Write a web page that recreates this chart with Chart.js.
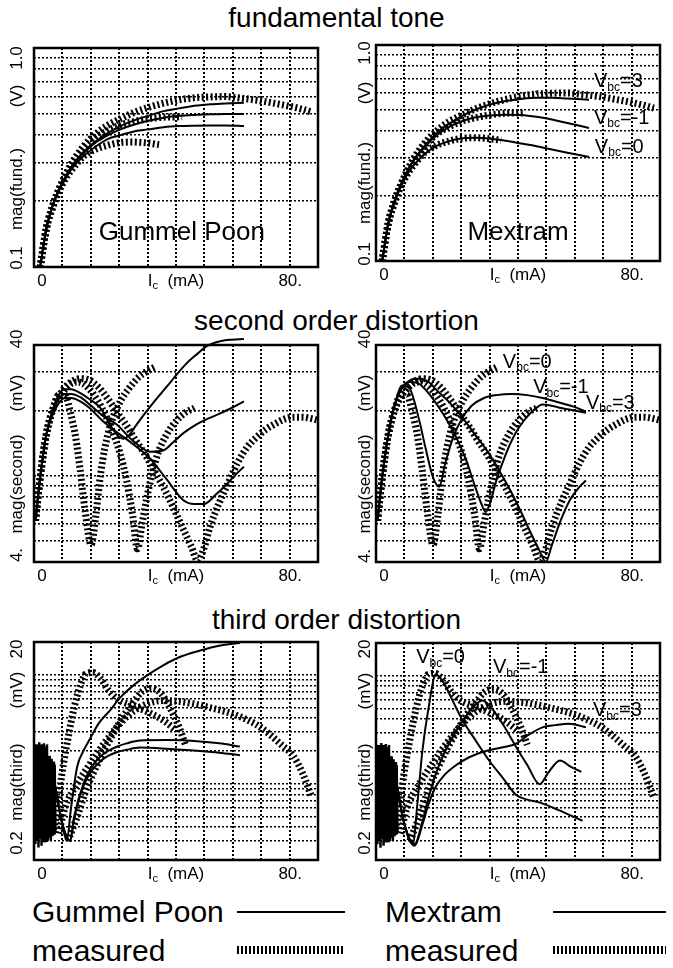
<!DOCTYPE html>
<html>
<head>
<meta charset="utf-8">
<title>distortion vs Ic</title>
<script src="https://cdn.jsdelivr.net/npm/chart.js@4.4.1/dist/chart.umd.min.js"></script>
<style>
    body { margin: 0; background: #fff; }
    #page { position: relative; width: 673px; height: 968px; overflow: hidden; font-family: "Liberation Sans", Arial, Helvetica, sans-serif; color: #000; }
    canvas { position: absolute; }
    .titulo { position: absolute; left: 0; width: 673px; text-align: center; font-size: 28px; line-height: 30px; }
    .leyenda { position: absolute; font-size: 30px; line-height: 34px; white-space: nowrap; }
    .linea { position: absolute; height: 2px; background: #000; }
    .puntos { position: absolute; height: 8px; background: repeating-linear-gradient(90deg, #000 0 2px, transparent 2px 4px); }
</style>
</head>
<body>
<div id="page">
    <div class="titulo" id="title-0" style="top:3px"></div>
    <div class="titulo" id="title-1" style="top:306px"></div>
    <div class="titulo" id="title-2" style="top:605px"></div>

    <div class="leyenda" style="left:32px;top:895px">Gummel Poon</div>
    <div class="linea" style="left:237px;top:911px;width:108px"></div>
    <div class="leyenda" style="left:385px;top:895px">Mextram</div>
    <div class="linea" style="left:553px;top:911px;width:113px"></div>
    <div class="leyenda" style="left:32px;top:934px">measured</div>
    <div class="puntos" style="left:237px;top:946px;width:108px"></div>
    <div class="leyenda" style="left:385px;top:934px">measured</div>
    <div class="puntos" style="left:553px;top:946px;width:113px"></div>
</div>
<script>
var FONT = '"Liberation Sans", Arial, Helvetica, sans-serif';

var row_titles = ['fundamental tone', 'second order distortion', 'third order distortion'];
var y_names = ['mag(fund.)', 'mag(second)', 'mag(third)'];
var y_units = ['(V)', '(mV)', '(mV)'];

// grid positions and tick labels
var x_grid = [-2, 7.2, 16.4, 25.6, 34.8, 44, 53.2, 62.4, 71.6, 80.8, 90];
var fund_grid = [0.1, 0.2, 0.3, 0.4, 0.5, 0.6, 0.7, 0.8, 0.9, 1.0];
var second_grid = [4, 5, 6, 7, 8, 9, 10, 20, 30, 40];
var third_grid = [0.2, 0.3, 0.4, 0.5, 0.6, 0.7, 0.8, 0.9, 1, 2, 3, 4, 5, 6, 7, 8, 9, 10, 20];
var x_tick_values = [0.6, 81];
var x_tick_labels = ['0', '80.'];
var fund_tick_labels = ['0.1', '1.0'];
var second_tick_labels = ['4.', '40'];
var third_tick_labels = ['0.2', '20'];

// fundamental, measured
var fund_meas3_x = [0, 2, 4, 6, 8, 10, 14, 18, 22, 26, 30, 35, 40, 45, 50, 55, 60, 65, 70, 75, 80, 85, 88];
var fund_meas3_y = [0.1, 0.15, 0.19, 0.225, 0.26, 0.295, 0.355, 0.405, 0.445, 0.475, 0.505, 0.535, 0.56, 0.58, 0.593, 0.598, 0.6, 0.59, 0.578, 0.562, 0.545, 0.525, 0.51];
var fund_meas1_x = [0, 2, 4, 6, 8, 10, 14, 18, 22, 26, 30, 35, 40, 46];
var fund_meas1_y = [0.1, 0.15, 0.19, 0.225, 0.258, 0.29, 0.345, 0.39, 0.42, 0.445, 0.46, 0.475, 0.483, 0.485];
var fund_meas0_x = [0, 2, 4, 6, 8, 10, 14, 18, 22, 26, 30, 35, 38.5];
var fund_meas0_y = [0.1, 0.15, 0.185, 0.22, 0.25, 0.275, 0.32, 0.345, 0.36, 0.37, 0.372, 0.368, 0.362];
// fundamental, Gummel Poon
var fund_gp_x = [0, 2, 4, 6, 8, 10, 14, 18, 22, 26, 30, 35, 40, 45, 50, 55, 60, 66];
var fund_gp3_y = [0.1, 0.15, 0.19, 0.225, 0.255, 0.285, 0.335, 0.375, 0.41, 0.44, 0.465, 0.49, 0.515, 0.53, 0.545, 0.553, 0.558, 0.562];
var fund_gp1_y = [0.1, 0.15, 0.19, 0.225, 0.255, 0.285, 0.33, 0.37, 0.4, 0.425, 0.445, 0.465, 0.48, 0.49, 0.495, 0.498, 0.5, 0.5];
var fund_gp0_y = [0.1, 0.15, 0.19, 0.222, 0.25, 0.278, 0.32, 0.355, 0.385, 0.4, 0.415, 0.425, 0.435, 0.44, 0.442, 0.443, 0.443, 0.44];
// fundamental, Mextram
var fund_mx_x = [0, 2, 4, 6, 8, 10, 14, 18, 22, 26, 30, 35, 40, 45, 50, 55, 60, 67];
var fund_mx3_y = [0.1, 0.15, 0.19, 0.225, 0.258, 0.29, 0.345, 0.395, 0.435, 0.47, 0.5, 0.53, 0.55, 0.563, 0.57, 0.57, 0.565, 0.558];
var fund_mx1_y = [0.1, 0.15, 0.19, 0.225, 0.258, 0.29, 0.34, 0.385, 0.42, 0.445, 0.462, 0.472, 0.476, 0.474, 0.465, 0.452, 0.435, 0.413];
var fund_mx0_y = [0.1, 0.15, 0.185, 0.22, 0.25, 0.275, 0.315, 0.343, 0.36, 0.37, 0.372, 0.368, 0.36, 0.35, 0.34, 0.328, 0.317, 0.303];

// second order, measured
var sec_meas0_x = [-1.5, 0, 2, 4, 6, 8, 10, 11.5, 13, 14.5, 16.5, 18, 19.5, 21, 23, 26, 29, 32, 35, 37.5];
var sec_meas0_y = [6.2, 9.8, 15.5, 20, 23.5, 23.5, 19, 15, 10.5, 7, 4.8, 6.5, 10, 13.5, 17.5, 22, 25.5, 28.5, 30.5, 31.8];
var sec_meas1_x = [-1.5, 0, 2, 4, 6, 8, 10, 12, 14, 17, 20, 23, 26, 28, 30, 31.5, 33, 35, 38, 41, 44, 47, 50];
var sec_meas1_y = [6.2, 9.8, 15.5, 20, 23, 25, 26.5, 27, 26.5, 24, 20.5, 16.5, 12.5, 9.5, 6.5, 4.6, 6, 8.5, 12.5, 15.5, 17.8, 19.5, 20.5];
var sec_meas3_x = [-1.5, 0, 2, 4, 6, 8, 10, 13, 16, 19, 22, 25, 28, 31, 34, 37, 40, 43, 46, 49, 51, 53, 55, 58, 61, 64, 67, 70, 73, 76, 79, 82, 85, 88, 90];
var sec_meas3_y = [6.2, 9.8, 15.5, 20, 23, 25.5, 27, 28, 27.5, 25.5, 22.5, 19.5, 17, 14.5, 12.5, 10.5, 8.8, 7.2, 5.8, 4.7, 4.05, 4.6, 5.8, 7.5, 9.3, 11.5, 13.5, 15, 16.3, 17.3, 18.2, 18.6, 18.6, 18.3, 18];
// second order, Gummel Poon
var sec_gp_a_x = [-1.5, 0, 2, 4, 6, 8, 10, 13, 16, 19.5, 23, 25, 27, 29, 31, 33.5, 37, 41, 44, 47.5, 51, 54, 58, 62, 66];
var sec_gp_a_y = [6.2, 9.8, 15.5, 20, 23.5, 25, 25, 24, 22.5, 20.5, 16.8, 15.4, 14.8, 15.5, 17, 19, 22, 25.7, 29, 33, 36.5, 39.5, 41.5, 42.3, 42.6];
var sec_gp_b_x = [-1.5, 0, 2, 4, 6, 8, 10, 13, 16, 20, 24.8, 30, 35.6, 40, 43, 46.4, 50, 54, 57, 62, 66];
var sec_gp_b_y = [6.2, 9.8, 15.5, 19.5, 22.5, 23.8, 23.8, 23, 21.3, 19, 17.2, 14.5, 12.9, 13.1, 14.2, 15.7, 17, 18.2, 19, 20.5, 22];
var sec_gp_c_x = [-1.5, 0, 2, 4, 6, 8, 10, 13, 16, 20, 25, 30, 35.6, 41, 46.4, 50, 53, 57, 60, 63, 66];
var sec_gp_c_y = [6.2, 9.8, 15.5, 19, 21.5, 22.8, 22.8, 22, 20.5, 18, 15.8, 14, 12, 9.6, 7.7, 7.4, 7.4, 8.2, 9, 10, 11];
// second order, Mextram
var sec_mx0_x = [-1.5, 0, 2, 4, 6.5, 9, 12, 14, 16.5, 18.5, 20.5, 23, 26, 29, 33, 37, 42, 47, 52, 57, 62, 66];
var sec_mx0_y = [6.2, 9.8, 15.5, 21, 26, 25, 18, 13.5, 9.8, 8.9, 11.5, 15, 18.5, 21, 22.8, 23.5, 23.8, 23.5, 22.8, 21.8, 20.8, 19.7];
var sec_mx1_x = [-1.5, 0, 2, 4, 6.5, 9, 12, 15, 18, 21, 24, 27, 30, 32, 33.5, 35, 37, 40, 43, 46, 49, 52, 55, 58, 62, 66];
var sec_mx1_y = [6.2, 9.8, 15.5, 21, 25.5, 27, 26.5, 24, 21, 18, 15, 12, 9, 7.5, 6.8, 7.5, 9.5, 12.5, 15.5, 18, 20, 21.3, 21, 20.5, 20, 19.5];
var sec_mx3_x = [-1.5, 0, 2, 4, 6.5, 9, 12, 15, 18, 22, 26, 30, 34, 38, 42, 45, 48, 51, 53, 55, 58, 61, 64, 66];
var sec_mx3_y = [6.2, 9.8, 15.5, 21, 25.5, 27.5, 28, 27, 24.5, 21.6, 18.5, 15.5, 13, 10.5, 8.3, 6.8, 5.5, 4.5, 4.0, 4.8, 6.3, 7.8, 8.9, 9.5];

// third order, measured (noisy start + three bias points)
var third_noise_x = [-1.8, -1.55, -1.3, -1.05, -0.8, -0.55, -0.3, -0.05, 0.2, 0.45, 0.7, 0.95, 1.2, 1.45, 1.7, 1.95, 2.2, 2.45, 2.7, 2.95, 3.2, 3.45, 3.7, 3.95, 4.2, 4.45, 4.7, 4.95];
var third_noise_y = [2.0, 0.28, 2.3, 0.3, 2.2, 0.26, 2.4, 0.32, 2.3, 0.27, 2.3, 0.3, 2.35, 0.29, 2.2, 0.3, 2.3, 0.3, 1.8, 0.32, 1.7, 0.3, 1.7, 0.33, 1.6, 0.34, 1.5, 0.36];
var third_meas0_x = [4, 5.5, 7, 9, 11, 13, 15, 17, 19.5, 22, 25, 30, 36, 40, 44];
var third_meas0_y = [0.35, 0.55, 1.2, 2.6, 5, 8, 10.3, 10.5, 9.3, 7.3, 6, 5.2, 4.4, 3.8, 3.1];
var third_meas1_x = [9, 12, 15, 18, 21, 24, 27, 30, 33, 36, 39, 42, 45, 47];
var third_meas1_y = [0.3, 0.5, 0.9, 1.4, 2.1, 3, 4.2, 5.5, 7, 7.5, 6.8, 5, 3.3, 2.3];
var third_meas3_x = [6, 8, 12, 16, 20, 24, 28, 32, 36, 40, 45, 50, 55, 60, 65, 70, 74, 78, 82, 85, 88];
var third_meas3_y = [0.35, 0.6, 1.0, 1.5, 2.2, 3.1, 4.1, 5.0, 5.6, 5.8, 5.7, 5.4, 5.0, 4.6, 4.1, 3.5, 2.9, 2.3, 1.8, 1.25, 0.75];
// third order, Gummel Poon
var third_gp_a_x = [3, 5, 7, 8.6, 10, 12, 14, 16.2, 19, 22.7, 26, 30.2, 35.6, 40, 45, 51.8, 58, 64.7];
var third_gp_a_y = [1.8, 0.9, 0.45, 0.3, 0.6, 1.44, 2.0, 2.6, 3.6, 4.75, 6.2, 8, 10.3, 12.3, 14.5, 16.7, 18.5, 19.6];
var third_gp_bc_x = [3, 5, 7, 9.7, 11, 14, 16.5, 19.4, 22, 24.8, 28, 32.3, 41, 51.8, 58, 64.7];
var third_gp_b_y = [1.8, 0.9, 0.45, 0.3, 0.5, 1.0, 1.4, 1.77, 2.0, 2.19, 2.35, 2.5, 2.52, 2.45, 2.35, 2.2];
var third_gp_c_y = [1.8, 0.9, 0.45, 0.3, 0.48, 0.95, 1.3, 1.6, 1.8, 1.95, 2.05, 2.15, 2.1, 2.0, 1.93, 1.83];
// third order, Mextram
var third_mx0_x = [3, 5, 7, 9.9, 11.5, 13, 15, 17.4, 20, 22.8, 26, 30, 35, 39, 43.3, 47, 50.9, 57, 64.9];
var third_mx0_y = [1.8, 0.9, 0.45, 0.28, 0.7, 2.0, 5.0, 10.3, 8.5, 5.9, 3.9, 2.6, 1.6, 1.15, 0.8, 0.72, 0.68, 0.58, 0.46];
var third_mx1_x = [3, 5, 7, 10.5, 13, 15, 17.4, 20, 22.8, 26, 29, 32.5, 35, 39, 43, 47, 51, 54, 57.6, 61, 64.5];
var third_mx1_y = [1.8, 0.9, 0.45, 0.28, 0.45, 0.75, 1.25, 1.9, 2.7, 3.8, 5.0, 5.9, 5.2, 3.6, 2.3, 1.5, 1.0, 1.3, 1.65, 1.45, 1.3];
var third_mx3_x = [3, 5, 7, 10.5, 13, 15, 17.4, 20, 24, 28.2, 33, 39, 43.3, 47, 51.9, 56, 60.6, 66];
var third_mx3_y = [1.8, 0.9, 0.45, 0.27, 0.42, 0.65, 0.95, 1.2, 1.5, 1.77, 2.0, 2.19, 2.35, 2.8, 3.34, 3.5, 3.6, 3.34];

to_points = function (xs, ys) {
    var pts = [];
    for (var i = 0; i < xs.length; i++) {
        pts.push({x: xs[i], y: ys[i]});
    }
    return pts;
}

model_line = function (xs, ys) {
    return {
        data: to_points(xs, ys),
        borderColor: '#000',
        borderWidth: 2,
        pointRadius: 0,
        fill: false,
        cubicInterpolationMode: 'monotone'
    }
}

measured_line = function (xs, ys) {
    return {
        data: to_points(xs, ys),
        borderColor: '#000',
        borderWidth: 7,
        borderDash: [2, 2.5],
        borderCapStyle: 'butt',
        pointRadius: 0,
        fill: false,
        cubicInterpolationMode: 'monotone'
    }
}

noise_line = function (xs, ys) {
    return {
        data: to_points(xs, ys),
        borderColor: '#000',
        borderWidth: 2.5,
        pointRadius: 0,
        fill: false,
        tension: 0
    }
}

vbc = function (value) {
    return [{t: 'V'}, {t: 'bc', sub: true}, {t: '=' + value}];
}

draw_parts = function (ctx, parts, x, y, size, align) {
    var width = 0;
    var i;
    for (i = 0; i < parts.length; i++) {
        ctx.font = (parts[i].sub ? Math.round(size * 0.62) : size) + 'px ' + FONT;
        width += ctx.measureText(parts[i].t).width;
    }
    var cx = align === 'center' ? x - width / 2 : x;
    ctx.textAlign = 'left';
    for (i = 0; i < parts.length; i++) {
        ctx.font = (parts[i].sub ? Math.round(size * 0.62) : size) + 'px ' + FONT;
        ctx.fillText(parts[i].t, cx, parts[i].sub ? y + size * 0.3 : y);
        cx += ctx.measureText(parts[i].t).width;
    }
}

var deco_plugin = {
    id: 'deco',
    afterDraw: function (chart, args, opts) {
        var ctx = chart.ctx;
        var a = chart.chartArea;
        var sx = chart.scales.x;
        var sy = chart.scales.y;
        ctx.save();
        ctx.strokeStyle = '#000';
        ctx.lineWidth = 2.5;
        ctx.strokeRect(a.left, a.top, a.right - a.left, a.bottom - a.top);
        ctx.fillStyle = '#000';
        ctx.textBaseline = 'middle';

        // rotated y labels
        ctx.save();
        ctx.translate(a.left + opts.label_dx, 0);
        ctx.rotate(-Math.PI / 2);
        ctx.font = '17px ' + FONT;
        ctx.textAlign = 'center';
        ctx.fillText(opts.y_ticks[0], -(a.bottom + opts.bottom_dy), 0);
        ctx.fillText(opts.y_ticks[1], -(a.top + opts.top_dy), 0);
        ctx.fillText(opts.y_name, -(a.bottom - 78), 0);
        ctx.fillText(opts.y_unit, -(a.top + 48), 0);
        ctx.restore();

        // x labels
        ctx.font = '17px ' + FONT;
        ctx.textAlign = 'center';
        var ly = a.bottom + 14;
        for (var i = 0; i < x_tick_values.length; i++) {
            ctx.fillText(x_tick_labels[i], sx.getPixelForValue(x_tick_values[i]), ly);
        }
        draw_parts(ctx, [{t: 'I'}, {t: 'c', sub: true}, {t: '  (mA)'}], sx.getPixelForValue(44), ly, 17, 'center');

        var notes = opts.notes || [];
        for (var j = 0; j < notes.length; j++) {
            var n = notes[j];
            draw_parts(ctx, n.parts, sx.getPixelForValue(n.x), sy.getPixelForValue(n.y), n.size, n.align);
        }
        ctx.restore();
    }
}

make_panel = function (box, area, y_range, y_grid, y_ticks, row, datasets, notes, label_dx, tick_dy) {
    var canvas = document.createElement('canvas');
    canvas.width = box[2];
    canvas.height = box[3];
    canvas.style.left = box[0] + 'px';
    canvas.style.top = box[1] + 'px';
    document.getElementById('page').appendChild(canvas);

    return new Chart(canvas, {
        type: 'line',
        data: {datasets: datasets},
        plugins: [deco_plugin],
        options: {
            responsive: false,
            animation: false,
            devicePixelRatio: 1,
            layout: {
                padding: {
                    left: area[0] - box[0],
                    top: area[1] - box[1],
                    right: box[0] + box[2] - area[2],
                    bottom: box[1] + box[3] - area[3]
                }
            },
            plugins: {
                legend: {display: false},
                tooltip: {enabled: false},
                deco: {
                    y_ticks: y_ticks,
                    y_name: y_names[row],
                    y_unit: y_units[row],
                    label_dx: label_dx,
                    top_dy: tick_dy[0],
                    bottom_dy: tick_dy[1],
                    notes: notes
                }
            },
            scales: {
                x: {
                    type: 'linear',
                    min: -2,
                    max: 90,
                    afterBuildTicks: function (scale) {
                        scale.ticks = x_grid.map(function (v) { return {value: v}; });
                    },
                    ticks: {display: false},
                    grid: {color: '#000', lineWidth: 2, drawTicks: false},
                    border: {display: false, dash: [2, 2]}
                },
                y: {
                    type: 'logarithmic',
                    min: y_range[0],
                    max: y_range[1],
                    afterBuildTicks: function (scale) {
                        scale.ticks = y_grid.map(function (v) { return {value: v}; });
                    },
                    ticks: {display: false},
                    grid: {color: '#000', lineWidth: 1.5, drawTicks: false},
                    border: {display: false, dash: [2, 2]}
                }
            }
        }
    });
}

for (var t = 0; t < row_titles.length; t++) {
    document.getElementById('title-' + t).textContent = row_titles[t];
}

// fundamental tone
make_panel([0, 30, 336, 270], [34, 48, 318, 267], [0.1, 1.0], fund_grid, fund_tick_labels, 0, [
    model_line(fund_gp_x, fund_gp3_y),
    model_line(fund_gp_x, fund_gp1_y),
    model_line(fund_gp_x, fund_gp0_y),
    measured_line(fund_meas3_x, fund_meas3_y),
    measured_line(fund_meas1_x, fund_meas1_y),
    measured_line(fund_meas0_x, fund_meas0_y)
], [
    {parts: [{t: 'Gummel Poon'}], x: 45.9, y: 0.143, size: 26, align: 'center'}
], -17, [10, -9]);

make_panel([336, 28, 337, 270], [376, 45, 660, 261], [0.1, 1.0], fund_grid, fund_tick_labels, 0, [
    model_line(fund_mx_x, fund_mx3_y),
    model_line(fund_mx_x, fund_mx1_y),
    model_line(fund_mx_x, fund_mx0_y),
    measured_line(fund_meas3_x, fund_meas3_y),
    measured_line(fund_meas1_x, fund_meas1_y),
    measured_line(fund_meas0_x, fund_meas0_y)
], [
    {parts: [{t: 'Mextram'}], x: 44, y: 0.135, size: 26, align: 'center'},
    {parts: vbc('3'), x: 68.6, y: 0.675, size: 20, align: 'left'},
    {parts: vbc('-1'), x: 68.6, y: 0.459, size: 20, align: 'left'},
    {parts: vbc('0'), x: 68.9, y: 0.337, size: 20, align: 'left'}
], -11, [8, -7]);

// second order
var gp_top = model_line(sec_gp_a_x, sec_gp_a_y);
gp_top.clip = false;
make_panel([0, 328, 336, 270], [34, 345, 318, 562], [4, 40], second_grid, second_tick_labels, 1, [
    gp_top,
    model_line(sec_gp_b_x, sec_gp_b_y),
    model_line(sec_gp_c_x, sec_gp_c_y),
    measured_line(sec_meas0_x, sec_meas0_y),
    measured_line(sec_meas1_x, sec_meas1_y),
    measured_line(sec_meas3_x, sec_meas3_y)
], [], -17, [-6, -7]);

make_panel([336, 328, 337, 270], [376, 345, 660, 562], [4, 40], second_grid, second_tick_labels, 1, [
    model_line(sec_mx0_x, sec_mx0_y),
    model_line(sec_mx1_x, sec_mx1_y),
    model_line(sec_mx3_x, sec_mx3_y),
    measured_line(sec_meas0_x, sec_meas0_y),
    measured_line(sec_meas1_x, sec_meas1_y),
    measured_line(sec_meas3_x, sec_meas3_y)
], [
    {parts: vbc('0'), x: 39.1, y: 33.4, size: 20, align: 'left'},
    {parts: vbc('-1'), x: 48.9, y: 25.4, size: 20, align: 'left'},
    {parts: vbc('3'), x: 66, y: 21.6, size: 20, align: 'left'}
], -11, [-6, -6]);

// third order
make_panel([0, 627, 336, 270], [34, 642, 318, 860], [0.2, 20], third_grid, third_tick_labels, 2, [
    model_line(third_gp_a_x, third_gp_a_y),
    model_line(third_gp_bc_x, third_gp_b_y),
    model_line(third_gp_bc_x, third_gp_c_y),
    noise_line(third_noise_x, third_noise_y),
    measured_line(third_meas0_x, third_meas0_y),
    measured_line(third_meas1_x, third_meas1_y),
    measured_line(third_meas3_x, third_meas3_y)
], [], -17, [7, -17]);

make_panel([336, 627, 337, 270], [376, 643, 660, 860], [0.2, 20], third_grid, third_tick_labels, 2, [
    model_line(third_mx0_x, third_mx0_y),
    model_line(third_mx1_x, third_mx1_y),
    model_line(third_mx3_x, third_mx3_y),
    noise_line(third_noise_x, third_noise_y),
    measured_line(third_meas0_x, third_meas0_y),
    measured_line(third_meas1_x, third_meas1_y),
    measured_line(third_meas3_x, third_meas3_y)
], [
    {parts: vbc('0'), x: 11, y: 14.6, size: 20, align: 'left'},
    {parts: vbc('-1'), x: 35.9, y: 11.8, size: 20, align: 'left'},
    {parts: vbc('3'), x: 68.3, y: 4.75, size: 20, align: 'left'}
], -11, [6, -17]);
</script>
</body>
</html>
